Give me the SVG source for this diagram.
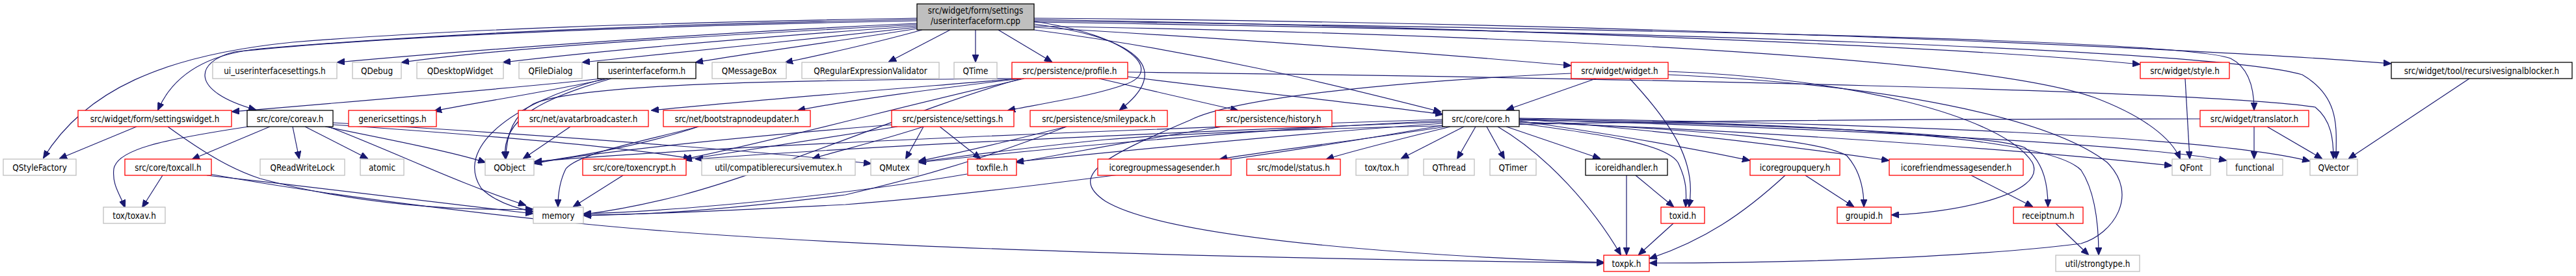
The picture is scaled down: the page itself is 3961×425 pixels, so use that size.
<svg xmlns="http://www.w3.org/2000/svg" width="3961" height="425" viewBox="0 0 3961 425">
<style>
.n rect{fill:#fff;stroke-width:1.3}
.g rect{stroke:#bfbfbf}
.r rect{stroke:#ff0000}
.k rect{stroke:#000}
.n text{font-family:"DejaVu Sans Condensed","DejaVu Sans",sans-serif;font-stretch:condensed;font-size:13.4px;text-anchor:middle;fill:#000}
#edges path{fill:none;stroke:#191970;stroke-width:1.2;marker-end:url(#a)}
</style>
<defs>
<marker id="a" markerUnits="userSpaceOnUse" viewBox="0 0 12 10" refX="11" refY="5" markerWidth="12" markerHeight="10" orient="auto"><path d="M0,0L12,5L0,10z" fill="#191970" stroke="#191970"/></marker>
</defs>
<rect width="3961" height="425" fill="#fff"/>
<g id="edges">
<path d="M1410,28 C1000,35 700,45 450,65 C250,85 130,140 67,243"/>
<path d="M1410,30 C1000,38 700,50 400,75 C300,85 260,130 243,169"/>
<path d="M1410,32 C1000,40 600,55 360,80 C300,95 290,140 393,169"/>
<path d="M1410,36 C1100,50 750,75 519,96"/>
<path d="M1410,38 C1150,52 800,70 618,96"/>
<path d="M1410,40 C1200,55 950,75 774,96"/>
<path d="M1410,42 C1250,60 1050,80 896,96"/>
<path d="M1410,44 C1300,62 1150,82 1070,96"/>
<path d="M1418,46 C1350,65 1260,85 1208,96"/>
<path d="M1461,46 L1367,95"/>
<path d="M1500,46 L1500,95"/>
<path d="M1535,46 L1617,95"/>
<path d="M1590,33 C1740,55 1790,110 1730,130 C1680,148 1600,160 1550,170"/>
<path d="M1590,37 C1760,60 1800,110 1722,169"/>
<path d="M1590,46 C1850,80 2050,130 2215,172"/>
<path d="M1590,42 C1900,60 2200,82 2415,101"/>
<path d="M1590,30 C2200,40 3000,70 3290,99"/>
<path d="M1590,28 C2500,35 3400,75 3676,98"/>
<path d="M1590,32 C2500,45 3350,60 3430,90 C3460,105 3466,140 3466,169"/>
<path d="M1590,34 C2500,48 3400,75 3540,115 C3600,150 3592,200 3592,244"/>
<path d="M1590,40 C2400,55 3050,90 3220,150 C3300,180 3340,215 3352,244"/>
<path d="M925,121 C800,135 500,160 357,172"/>
<path d="M935,121 C850,140 720,160 668,171"/>
<path d="M940,121 C840,150 770,180 777,244"/>
<path d="M930,121 C780,160 700,230 740,290 C760,310 790,320 820,326"/>
<path d="M415,195 L296,245"/>
<path d="M382,195 C250,215 180,230 175,260 C172,285 185,300 192,319"/>
<path d="M450,195 L460,244"/>
<path d="M469,195 L565,244"/>
<path d="M500,195 C600,215 700,235 746,250"/>
<path d="M505,195 C620,240 700,280 808,316"/>
<path d="M512,192 C700,205 950,225 1062,244"/>
<path d="M512,189 C800,205 1200,235 1339,252"/>
<path d="M250,270 L219,319"/>
<path d="M318,270 C500,290 700,315 819,329"/>
<path d="M322,268 C500,300 700,325 900,345 C1200,375 1700,395 2466,405"/>
<path d="M210,195 L92,244"/>
<path d="M258,195 C320,240 360,262 400,275 C550,315 700,325 819,322"/>
<path d="M877,195 L805,244"/>
<path d="M1074,195 C1000,220 900,240 822,250"/>
<path d="M1074,195 C1000,215 890,235 870,260 C860,280 858,300 858,318"/>
<path d="M958,270 L882,318"/>
<path d="M1565,121 C1400,135 1150,155 1002,170"/>
<path d="M1570,121 C1450,135 1300,155 1227,170"/>
<path d="M1556,121 C1300,123 900,125 820,160 C785,180 778,215 778,244"/>
<path d="M1570,121 C1400,170 1200,260 1050,300 C980,318 930,326 898,330"/>
<path d="M1575,121 C1400,160 1200,215 1052,245"/>
<path d="M1690,121 L1903,170"/>
<path d="M1733,118 C1950,145 2100,160 2218,176"/>
<path d="M1733,111 C2500,120 3400,140 3560,165 C3585,185 3588,215 3588,244"/>
<path d="M2454,121 L2317,169"/>
<path d="M2506,121 C2570,190 2610,250 2597,318"/>
<path d="M2565,110 C2850,120 3080,180 3125,250 C3150,300 3000,328 2909,331"/>
<path d="M2416,113 C2150,125 1900,150 1830,185 C1700,240 1640,270 1700,310 C1800,370 2200,395 2466,404"/>
<path d="M2565,115 C2900,130 3150,180 3240,250 C3290,300 3250,360 3200,375 C3000,400 2700,405 2537,405"/>
<path d="M2251,195 L2155,244"/>
<path d="M2269,195 L2241,244"/>
<path d="M2286,195 L2313,244"/>
<path d="M2316,195 L2460,244"/>
<path d="M2303,195 C2380,240 2450,320 2492,392"/>
<path d="M2336,190 C2450,205 2560,220 2580,250 C2595,280 2593,300 2592,318"/>
<path d="M2336,186 C2500,210 2620,232 2690,247"/>
<path d="M2336,183 C2600,205 2800,232 2904,247"/>
<path d="M2336,188 C2600,198 2800,215 2840,240 C2862,265 2866,295 2866,318"/>
<path d="M2336,185 C2700,190 3050,205 3113,227 C3145,250 3149,290 3149,318"/>
<path d="M2336,183 C2800,190 3150,210 3200,262 C3225,300 3227,360 3227,392"/>
<path d="M2336,188 C2800,205 3200,240 3339,255"/>
<path d="M2336,184 C2900,200 3300,225 3423,247"/>
<path d="M2336,182 C2900,190 3400,210 3551,248"/>
<path d="M2218,184 C1700,200 1100,225 822,249"/>
<path d="M2218,186 C1900,200 1600,230 1413,250"/>
<path d="M2218,188 C1900,200 1400,220 1070,245"/>
<path d="M2218,190 C2000,205 1700,235 1563,249"/>
<path d="M2218,193 C1900,250 1500,300 1300,315 C1100,325 1000,330 898,331"/>
<path d="M2222,195 C2100,215 1950,232 1876,245"/>
<path d="M2230,195 C2150,215 2080,232 2040,245"/>
<path d="M1420,195 L1393,244"/>
<path d="M1445,195 L1507,244"/>
<path d="M1420,195 C1360,215 1290,232 1250,244"/>
<path d="M1380,195 C1250,215 1120,235 1053,246"/>
<path d="M1372,192 C1150,210 900,235 822,252"/>
<path d="M1640,195 C1560,215 1480,235 1413,248"/>
<path d="M1640,195 C1550,230 1450,265 1300,300 C1100,325 1000,330 898,332"/>
<path d="M1880,195 C1750,215 1650,235 1563,250"/>
<path d="M3466,195 L3466,244"/>
<path d="M3486,195 L3570,244"/>
<path d="M3383,183 C2800,183 2000,190 1700,215 C1550,230 1450,245 1413,249"/>
<path d="M3797,121 L3612,244"/>
<path d="M3360,121 L3367,244"/>
<path d="M2501,270 L2501,392"/>
<path d="M2515,270 L2573,318"/>
<path d="M2573,344 L2520,392"/>
<path d="M2776,270 L2850,318"/>
<path d="M2745,270 C2680,330 2620,370 2537,398"/>
<path d="M3031,270 L3125,318"/>
<path d="M3161,344 L3211,392"/>
<path d="M1487,268 C1300,300 1050,325 898,329"/>
</g>
<g id="top" class="n k"><rect x="1410" y="6" width="180" height="40" style="fill:#bfbfbf"/><text x="1500" y="21">src/widget/form/settings</text><text x="1500" y="37">/userinterfaceform.cpp</text></g>
<g id="n_ui" class="n g"><rect x="327" y="96" width="191" height="25"/><text x="422.5" y="113.5">ui_userinterfacesettings.h</text></g>
<g id="n_qdebug" class="n g"><rect x="542" y="96" width="75" height="25"/><text x="579.5" y="113.5">QDebug</text></g>
<g id="n_qdesk" class="n g"><rect x="641" y="96" width="133" height="25"/><text x="707.5" y="113.5">QDesktopWidget</text></g>
<g id="n_qfile" class="n g"><rect x="798" y="96" width="97" height="25"/><text x="846.5" y="113.5">QFileDialog</text></g>
<g id="n_uif" class="n k"><rect x="919" y="96" width="151" height="25"/><text x="994.5" y="113.5">userinterfaceform.h</text></g>
<g id="n_qmsg" class="n g"><rect x="1095" y="96" width="114" height="25"/><text x="1152" y="113.5">QMessageBox</text></g>
<g id="n_qrev" class="n g"><rect x="1233" y="96" width="211" height="25"/><text x="1338.5" y="113.5">QRegularExpressionValidator</text></g>
<g id="n_qtime" class="n g"><rect x="1467" y="96" width="66" height="25"/><text x="1500" y="113.5">QTime</text></g>
<g id="n_profile" class="n r"><rect x="1556" y="96" width="178" height="25"/><text x="1645" y="113.5">src/persistence/profile.h</text></g>
<g id="n_widget" class="n r"><rect x="2416" y="96" width="149" height="25"/><text x="2490.5" y="113.5">src/widget/widget.h</text></g>
<g id="n_style" class="n r"><rect x="3291" y="96" width="137" height="25"/><text x="3359.5" y="113.5">src/widget/style.h</text></g>
<g id="n_rsb" class="n k"><rect x="3677" y="96" width="278" height="25"/><text x="3816" y="113.5">src/widget/tool/recursivesignalblocker.h</text></g>
<g id="n_sw" class="n r"><rect x="120" y="170" width="236" height="25"/><text x="238" y="187.5">src/widget/form/settingswidget.h</text></g>
<g id="n_coreav" class="n k"><rect x="380" y="170" width="132" height="25"/><text x="446" y="187.5">src/core/coreav.h</text></g>
<g id="n_generic" class="n r"><rect x="536" y="170" width="135" height="25"/><text x="603.5" y="187.5">genericsettings.h</text></g>
<g id="n_avatar" class="n r"><rect x="797" y="170" width="200" height="25"/><text x="897" y="187.5">src/net/avatarbroadcaster.h</text></g>
<g id="n_boot" class="n r"><rect x="1020" y="170" width="226" height="25"/><text x="1133" y="187.5">src/net/bootstrapnodeupdater.h</text></g>
<g id="n_settings" class="n r"><rect x="1371" y="170" width="188" height="25"/><text x="1465" y="187.5">src/persistence/settings.h</text></g>
<g id="n_smiley" class="n r"><rect x="1584" y="170" width="211" height="25"/><text x="1689.5" y="187.5">src/persistence/smileypack.h</text></g>
<g id="n_history" class="n r"><rect x="1869" y="170" width="179" height="25"/><text x="1958.5" y="187.5">src/persistence/history.h</text></g>
<g id="n_core" class="n k"><rect x="2218" y="170" width="118" height="25"/><text x="2277" y="187.5">src/core/core.h</text></g>
<g id="n_trans" class="n r"><rect x="3383" y="170" width="167" height="25"/><text x="3466.5" y="187.5">src/widget/translator.h</text></g>
<g id="n_qsf" class="n g"><rect x="5" y="245" width="112" height="25"/><text x="61" y="262.5">QStyleFactory</text></g>
<g id="n_toxcall" class="n r"><rect x="192" y="245" width="133" height="25"/><text x="258.5" y="262.5">src/core/toxcall.h</text></g>
<g id="n_qrwl" class="n g"><rect x="400" y="245" width="130" height="25"/><text x="465" y="262.5">QReadWriteLock</text></g>
<g id="n_atomic" class="n g"><rect x="554" y="245" width="67" height="25"/><text x="587.5" y="262.5">atomic</text></g>
<g id="n_qobject" class="n g"><rect x="746" y="245" width="75" height="25"/><text x="783.5" y="262.5">QObject</text></g>
<g id="n_toxenc" class="n r"><rect x="896" y="245" width="159" height="25"/><text x="975.5" y="262.5">src/core/toxencrypt.h</text></g>
<g id="n_compat" class="n g"><rect x="1079" y="245" width="236" height="25"/><text x="1197" y="262.5">util/compatiblerecursivemutex.h</text></g>
<g id="n_qmutex" class="n g"><rect x="1339" y="245" width="73" height="25"/><text x="1375.5" y="262.5">QMutex</text></g>
<g id="n_toxfile" class="n r"><rect x="1488" y="245" width="75" height="25"/><text x="1525.5" y="262.5">toxfile.h</text></g>
<g id="n_icgms" class="n r"><rect x="1688" y="245" width="205" height="25"/><text x="1790.5" y="262.5">icoregroupmessagesender.h</text></g>
<g id="n_status" class="n r"><rect x="1917" y="245" width="144" height="25"/><text x="1989" y="262.5">src/model/status.h</text></g>
<g id="n_toxh" class="n g"><rect x="2085" y="245" width="80" height="25"/><text x="2125" y="262.5">tox/tox.h</text></g>
<g id="n_qthread" class="n g"><rect x="2189" y="245" width="78" height="25"/><text x="2228" y="262.5">QThread</text></g>
<g id="n_qtimer" class="n g"><rect x="2291" y="245" width="71" height="25"/><text x="2326.5" y="262.5">QTimer</text></g>
<g id="n_icid" class="n k"><rect x="2438" y="245" width="126" height="25"/><text x="2501" y="262.5">icoreidhandler.h</text></g>
<g id="n_icgq" class="n r"><rect x="2691" y="245" width="138" height="25"/><text x="2760" y="262.5">icoregroupquery.h</text></g>
<g id="n_icfms" class="n r"><rect x="2905" y="245" width="206" height="25"/><text x="3008" y="262.5">icorefriendmessagesender.h</text></g>
<g id="n_qfont" class="n g"><rect x="3340" y="245" width="59" height="25"/><text x="3369.5" y="262.5">QFont</text></g>
<g id="n_func" class="n g"><rect x="3424" y="245" width="86" height="25"/><text x="3467" y="262.5">functional</text></g>
<g id="n_qvector" class="n g"><rect x="3552" y="245" width="73" height="25"/><text x="3588.5" y="262.5">QVector</text></g>
<g id="n_toxav" class="n g"><rect x="159" y="319" width="95" height="25"/><text x="206.5" y="336.5">tox/toxav.h</text></g>
<g id="n_memory" class="n g"><rect x="820" y="319" width="77" height="25"/><text x="858.5" y="336.5">memory</text></g>
<g id="n_toxid" class="n r"><rect x="2554" y="319" width="67" height="25"/><text x="2587.5" y="336.5">toxid.h</text></g>
<g id="n_groupid" class="n r"><rect x="2825" y="319" width="83" height="25"/><text x="2866.5" y="336.5">groupid.h</text></g>
<g id="n_receipt" class="n r"><rect x="3096" y="319" width="107" height="25"/><text x="3149.5" y="336.5">receiptnum.h</text></g>
<g id="n_toxpk" class="n r"><rect x="2466" y="393" width="70" height="25"/><text x="2501" y="410.5">toxpk.h</text></g>
<g id="n_strong" class="n g"><rect x="3161" y="393" width="129" height="25"/><text x="3225.5" y="410.5">util/strongtype.h</text></g>
</svg>
